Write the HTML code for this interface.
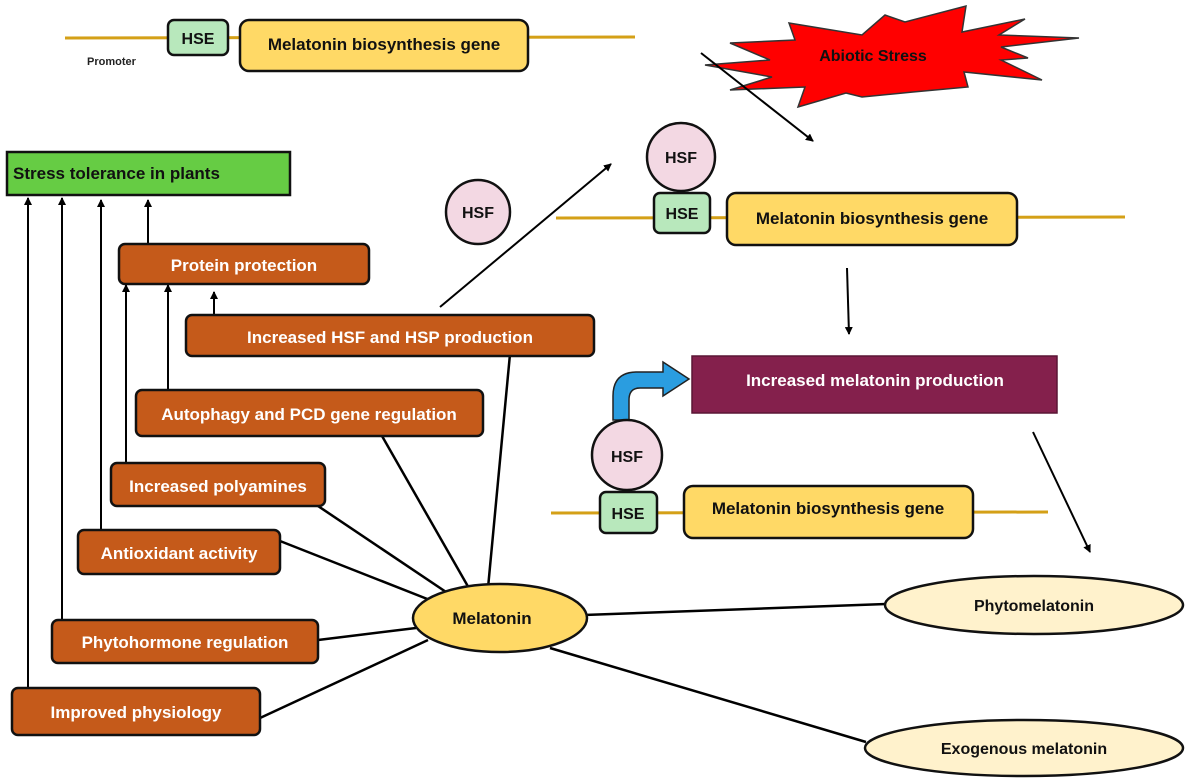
<!DOCTYPE html>
<html><head><meta charset="utf-8"><style>
html,body{margin:0;padding:0;background:#fff;}
svg{display:block;}
text{font-family:"Liberation Sans",sans-serif;font-weight:bold;}
</style></head><body>
<svg width="1187" height="783" viewBox="0 0 1187 783" xmlns="http://www.w3.org/2000/svg">
<defs>
<marker id="a" markerWidth="8" markerHeight="8" refX="7" refY="4" orient="auto" markerUnits="userSpaceOnUse"><path d="M0,0 L8,4 L0,8 z" fill="#000"/></marker>
</defs>
<!-- top promoter -->
<line x1="65" y1="38" x2="635" y2="37" stroke="#d4a017" stroke-width="3"/>
<rect x="168" y="20" width="60" height="35" rx="6" fill="#b8e8bc" stroke="#111" stroke-width="2.5"/>
<text x="198" y="44" font-size="16" text-anchor="middle" fill="#111">HSE</text>
<rect x="240" y="20" width="288" height="51" rx="9" fill="#ffd966" stroke="#111" stroke-width="2.5"/>
<text x="384" y="50" font-size="17" text-anchor="middle" fill="#111">Melatonin biosynthesis gene</text>
<text x="87" y="65" font-size="11" fill="#222">Promoter</text>

<!-- abiotic stress star -->
<polygon points="789,23 862,35 885,15 905,22 966,6 962,32 1025,19 999,35 1079,38 1001,47 1028,58 1001,60 1042,80 964,72 968,87 913,92 862,97 846,93 798,107 805,87 730,90 772,77 705,65 770,60 730,43 795,40" fill="#ff0000" stroke="#333" stroke-width="1.5"/>
<text x="873" y="61" font-size="16" text-anchor="middle" fill="#111" font-weight="normal">Abiotic Stress</text>
<line x1="701" y1="53" x2="813" y2="141" stroke="#000" stroke-width="2" marker-end="url(#a)"/>

<!-- right upper gene -->
<line x1="556" y1="218" x2="1125" y2="217" stroke="#d4a017" stroke-width="3"/>
<circle cx="681" cy="157" r="34" fill="#f3d8e3" stroke="#111" stroke-width="2.5"/>
<text x="681" y="163" font-size="16" text-anchor="middle" fill="#111">HSF</text>
<rect x="654" y="193" width="56" height="40" rx="6" fill="#b8e8bc" stroke="#111" stroke-width="2.5"/>
<text x="682" y="219" font-size="16" text-anchor="middle" fill="#111">HSE</text>
<rect x="727" y="193" width="290" height="52" rx="9" fill="#ffd966" stroke="#111" stroke-width="2.5"/>
<text x="872" y="224" font-size="17" text-anchor="middle" fill="#111">Melatonin biosynthesis gene</text>
<line x1="847" y1="268" x2="849" y2="334" stroke="#000" stroke-width="2" marker-end="url(#a)"/>

<!-- increased melatonin production -->
<rect x="692" y="356" width="365" height="57" fill="#84204c" stroke="#5a1535" stroke-width="1.5"/>
<text x="875" y="386" font-size="17" text-anchor="middle" fill="#fff">Increased melatonin production</text>
<!-- blue arrow -->
<path d="M613,420 L613,396 Q613,372 637,372 L663,372 L663,362 L689,379 L663,396 L663,388 L640,388 Q629,388 629,400 L629,420 Z" fill="#2a9de0" stroke="#222" stroke-width="1.5"/>

<!-- lower gene -->
<line x1="551" y1="513" x2="1048" y2="512" stroke="#d4a017" stroke-width="3"/>
<circle cx="627" cy="455" r="35" fill="#f3d8e3" stroke="#111" stroke-width="2.5"/>
<text x="627" y="462" font-size="16" text-anchor="middle" fill="#111">HSF</text>
<rect x="600" y="492" width="57" height="41" rx="6" fill="#b8e8bc" stroke="#111" stroke-width="2.5"/>
<text x="628" y="519" font-size="16" text-anchor="middle" fill="#111">HSE</text>
<rect x="684" y="486" width="289" height="52" rx="9" fill="#ffd966" stroke="#111" stroke-width="2.5"/>
<text x="828" y="514" font-size="17" text-anchor="middle" fill="#111">Melatonin biosynthesis gene</text>
<line x1="1033" y1="432" x2="1090" y2="552" stroke="#000" stroke-width="2" marker-end="url(#a)"/>

<!-- free HSF -->
<circle cx="478" cy="212" r="32" fill="#f3d8e3" stroke="#111" stroke-width="2.5"/>
<text x="478" y="218" font-size="16" text-anchor="middle" fill="#111">HSF</text>
<line x1="440" y1="307" x2="611" y2="164" stroke="#000" stroke-width="2" marker-end="url(#a)"/>

<!-- connector lines from melatonin -->
<g stroke="#000" stroke-width="2.5">
<line x1="488" y1="588" x2="510" y2="354"/>
<line x1="470" y1="590" x2="382" y2="436"/>
<line x1="452" y1="596" x2="318" y2="506"/>
<line x1="440" y1="604" x2="280" y2="541"/>
<line x1="416" y1="628" x2="318" y2="640"/>
<line x1="428" y1="640" x2="260" y2="718"/>
<line x1="584" y1="615" x2="886" y2="604"/>
<line x1="550" y1="648" x2="866" y2="742"/>
</g>

<!-- vertical arrows -->
<g stroke="#000" stroke-width="2">
<line x1="28" y1="688" x2="28" y2="198" marker-end="url(#a)"/>
<line x1="62" y1="620" x2="62" y2="198" marker-end="url(#a)"/>
<line x1="101" y1="530" x2="101" y2="200" marker-end="url(#a)"/>
<line x1="148" y1="244" x2="148" y2="200" marker-end="url(#a)"/>
<line x1="126" y1="463" x2="126" y2="285" marker-end="url(#a)"/>
<line x1="168" y1="390" x2="168" y2="285" marker-end="url(#a)"/>
<line x1="214" y1="315" x2="214" y2="292" marker-end="url(#a)"/>
</g>

<!-- stress tolerance -->
<rect x="7" y="152" width="283" height="43" fill="#66cc44" stroke="#111" stroke-width="2.5"/>
<text x="13" y="179" font-size="17" fill="#111">Stress tolerance in plants</text>

<!-- orange boxes -->
<g fill="#c55a1a" stroke="#111" stroke-width="2.5">
<rect x="119" y="244" width="250" height="40" rx="6"/>
<rect x="186" y="315" width="408" height="41" rx="6"/>
<rect x="136" y="390" width="347" height="46" rx="6"/>
<rect x="111" y="463" width="214" height="43" rx="6"/>
<rect x="78" y="530" width="202" height="44" rx="6"/>
<rect x="52" y="620" width="266" height="43" rx="6"/>
<rect x="12" y="688" width="248" height="47" rx="6"/>
</g>
<g fill="#fff" font-size="17" text-anchor="middle">
<text x="244" y="271">Protein protection</text>
<text x="390" y="343">Increased HSF and HSP production</text>
<text x="309" y="420">Autophagy and PCD gene regulation</text>
<text x="218" y="492">Increased polyamines</text>
<text x="179" y="559">Antioxidant activity</text>
<text x="185" y="648">Phytohormone regulation</text>
<text x="136" y="718">Improved physiology</text>
</g>

<!-- ellipses -->
<ellipse cx="500" cy="618" rx="87" ry="34" fill="#ffd966" stroke="#111" stroke-width="2.5"/>
<text x="492" y="624" font-size="17" text-anchor="middle" fill="#111">Melatonin</text>
<ellipse cx="1034" cy="605" rx="149" ry="29" fill="#fff2cc" stroke="#111" stroke-width="2.5"/>
<text x="1034" y="611" font-size="16" text-anchor="middle" fill="#111">Phytomelatonin</text>
<ellipse cx="1024" cy="748" rx="159" ry="28" fill="#fff2cc" stroke="#111" stroke-width="2.5"/>
<text x="1024" y="754" font-size="16" text-anchor="middle" fill="#111">Exogenous melatonin</text>
</svg>
</body></html>
